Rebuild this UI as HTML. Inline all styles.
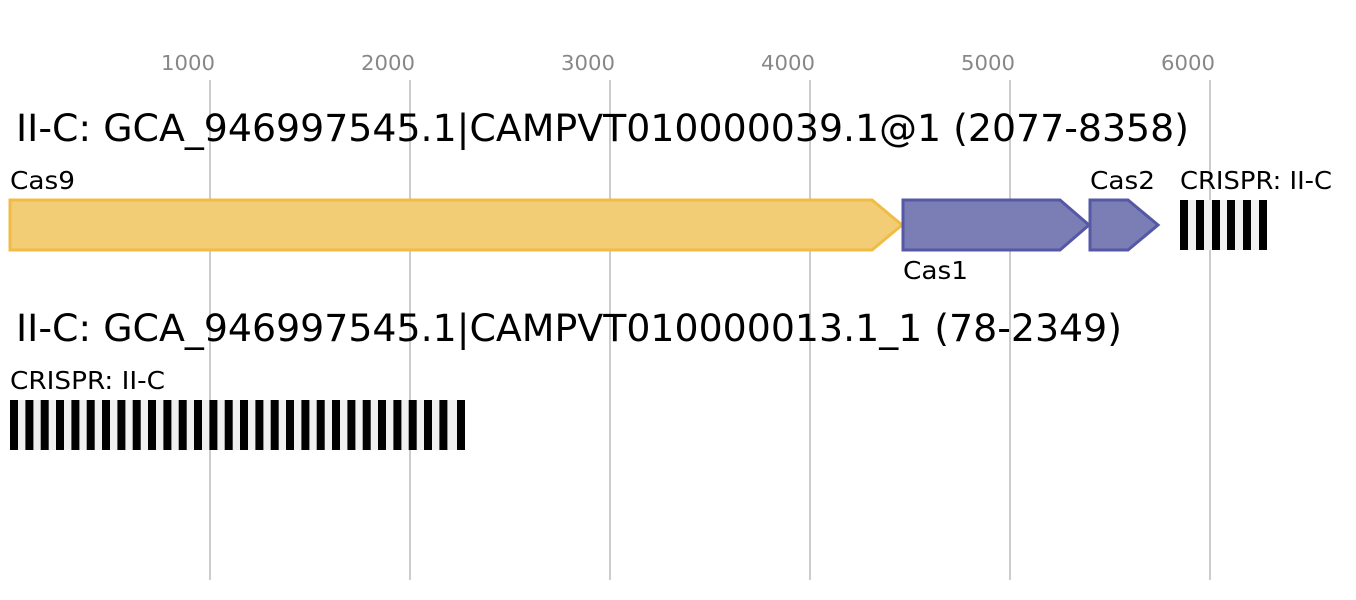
<!DOCTYPE html>
<html><head><style>body{margin:0;background:#fff}svg{display:block}text{font-family:"DejaVu Sans","Liberation Sans",sans-serif}</style></head>
<body>
<svg width="1356" height="600" xmlns="http://www.w3.org/2000/svg">
<rect width="1356" height="600" fill="#fff"/>
<g stroke="#bbb" stroke-width="1.5">
<line x1="210" y1="80" x2="210" y2="580"/><line x1="410" y1="80" x2="410" y2="580"/><line x1="610" y1="80" x2="610" y2="580"/><line x1="810" y1="80" x2="810" y2="580"/><line x1="1010" y1="80" x2="1010" y2="580"/><line x1="1210" y1="80" x2="1210" y2="580"/>
</g>
<g fill="#888" font-size="20" text-anchor="middle">
<text x="188" y="70" textLength="54" lengthAdjust="spacingAndGlyphs">1000</text><text x="388" y="70" textLength="54" lengthAdjust="spacingAndGlyphs">2000</text><text x="588" y="70" textLength="54" lengthAdjust="spacingAndGlyphs">3000</text><text x="788" y="70" textLength="54" lengthAdjust="spacingAndGlyphs">4000</text><text x="988" y="70" textLength="54" lengthAdjust="spacingAndGlyphs">5000</text><text x="1188" y="70" textLength="54" lengthAdjust="spacingAndGlyphs">6000</text>
</g>
<text x="16" y="141" font-size="37" textLength="1173" lengthAdjust="spacingAndGlyphs">II-C: GCA_946997545.1|CAMPVT010000039.1@1 (2077-8358)</text>
<text x="16" y="341" font-size="37" textLength="1106" lengthAdjust="spacingAndGlyphs">II-C: GCA_946997545.1|CAMPVT010000013.1_1 (78-2349)</text>
<g font-size="25">
<text x="10" y="189" textLength="65" lengthAdjust="spacingAndGlyphs">Cas9</text><text x="903" y="279" textLength="65" lengthAdjust="spacingAndGlyphs">Cas1</text><text x="1090" y="189" textLength="65" lengthAdjust="spacingAndGlyphs">Cas2</text><text x="1180" y="189" textLength="152" lengthAdjust="spacingAndGlyphs">CRISPR: II-C</text><text x="10" y="389" textLength="155" lengthAdjust="spacingAndGlyphs">CRISPR: II-C</text>
</g>
<polygon points="10,200 872,200 902,225 872,250 10,250" fill="#f2cd76" stroke="#f0bc45" stroke-width="3"/>
<polygon points="903,200 1060,200 1089,225 1060,250 903,250" fill="#7b7db5" stroke="#5558a5" stroke-width="3"/>
<polygon points="1090,200 1128,200 1158,225 1128,250 1090,250" fill="#7b7db5" stroke="#5558a5" stroke-width="3"/>
<rect x="1180" y="200" width="87" height="50" fill="#f0f0f0"/>
<g fill="#000">
<rect x="1180" y="200" width="8" height="50"/><rect x="1196" y="200" width="8" height="50"/><rect x="1212" y="200" width="8" height="50"/><rect x="1227" y="200" width="8" height="50"/><rect x="1243" y="200" width="8" height="50"/><rect x="1259" y="200" width="8" height="50"/>
</g>
<rect x="10" y="400" width="455" height="50" fill="#f0f0f0"/>
<g fill="#000">
<rect x="10.0" y="400" width="8" height="50"/><rect x="25.4" y="400" width="8" height="50"/><rect x="40.7" y="400" width="8" height="50"/><rect x="56.0" y="400" width="8" height="50"/><rect x="71.4" y="400" width="8" height="50"/><rect x="86.7" y="400" width="8" height="50"/><rect x="102.0" y="400" width="8" height="50"/><rect x="117.4" y="400" width="8" height="50"/><rect x="132.7" y="400" width="8" height="50"/><rect x="148.0" y="400" width="8" height="50"/><rect x="163.4" y="400" width="8" height="50"/><rect x="178.7" y="400" width="8" height="50"/><rect x="194.0" y="400" width="8" height="50"/><rect x="209.4" y="400" width="8" height="50"/><rect x="224.7" y="400" width="8" height="50"/><rect x="240.0" y="400" width="8" height="50"/><rect x="255.4" y="400" width="8" height="50"/><rect x="270.7" y="400" width="8" height="50"/><rect x="286.0" y="400" width="8" height="50"/><rect x="301.4" y="400" width="8" height="50"/><rect x="316.7" y="400" width="8" height="50"/><rect x="332.0" y="400" width="8" height="50"/><rect x="347.4" y="400" width="8" height="50"/><rect x="362.7" y="400" width="8" height="50"/><rect x="378.0" y="400" width="8" height="50"/><rect x="393.4" y="400" width="8" height="50"/><rect x="408.7" y="400" width="8" height="50"/><rect x="424.0" y="400" width="8" height="50"/><rect x="439.4" y="400" width="8" height="50"/><rect x="457.0" y="400" width="8" height="50"/>
</g>
</svg>
</body></html>
